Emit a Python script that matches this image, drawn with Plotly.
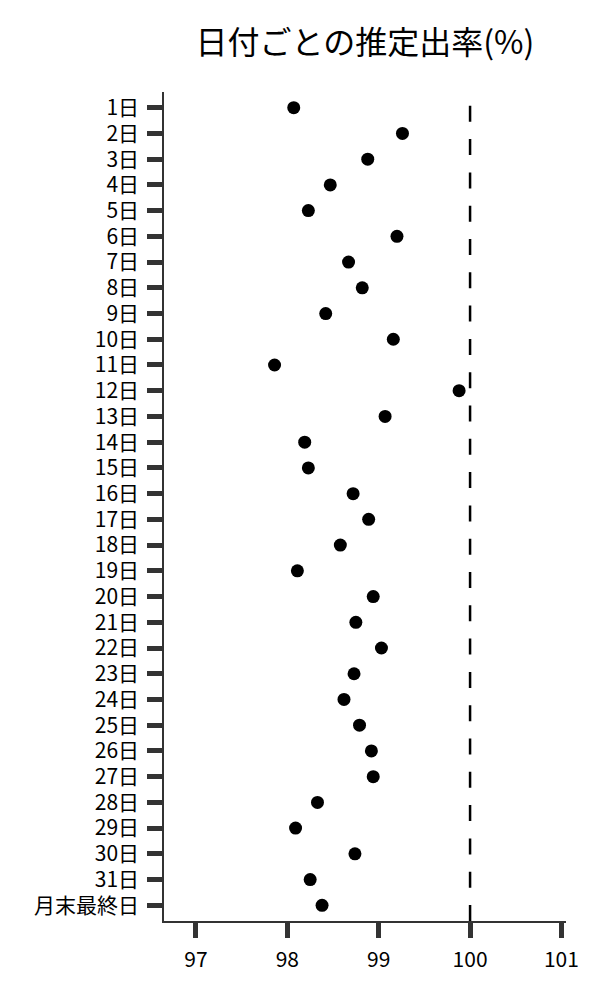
import plotly.graph_objs as go

days = ["1日", "2日", "3日", "4日", "5日", "6日", "7日", "8日", "9日", "10日",
        "11日", "12日", "13日", "14日", "15日", "16日", "17日", "18日", "19日", "20日",
        "21日", "22日", "23日", "24日", "25日", "26日", "27日", "28日", "29日", "30日",
        "31日", "月末最終日"]
rates = [98.07, 99.26, 98.88, 98.47, 98.23, 99.20, 98.67, 98.82, 98.42, 99.16,
         97.86, 99.88, 99.07, 98.19, 98.23, 98.72, 98.89, 98.58, 98.11, 98.94,
         98.75, 99.03, 98.73, 98.62, 98.79, 98.92, 98.94, 98.33, 98.09, 98.74,
         98.25, 98.38]
x_ticks = [97, 98, 99, 100, 101]
target = 100

font_name = "Noto Sans CJK JP"

data = [go.Scatter(
    x=rates,
    y=days,
    mode="markers",
    marker=dict(color="black", size=13, line=dict(width=0)),
    showlegend=False,
    hoverinfo="x+y"
)]

layout = go.Layout(
    width=600,
    height=1000,
    paper_bgcolor="white",
    plot_bgcolor="white",
    font=dict(family=font_name, color="black", size=21),
    margin=dict(l=156, r=42, t=84, b=87),
    title=dict(
        text="日付ごとの推定出率(%)",
        font=dict(family=font_name, size=32, color="black"),
        x=0.5, xref="paper", xanchor="center",
        y=0.965, yref="container", yanchor="middle"
    ),
    xaxis=dict(
        range=[96.65, 101.05],
        tickvals=x_ticks,
        showgrid=False,
        zeroline=False,
        showline=True,
        linecolor="#333",
        linewidth=1.5,
        ticks="outside",
        ticklen=15,
        tickwidth=5,
        tickcolor="#333",
        ticklabelstandoff=4,
        tickfont=dict(size=21, color="black")
    ),
    yaxis=dict(
        type="category",
        categoryorder="array",
        categoryarray=days,
        range=[len(days) - 0.39, -0.61],
        showgrid=False,
        zeroline=False,
        showline=True,
        linecolor="#333",
        linewidth=1.5,
        ticks="outside",
        ticklen=15,
        tickwidth=5,
        tickcolor="#333",
        ticklabelstandoff=4,
        tickfont=dict(size=21, color="black")
    ),
    shapes=[dict(
        type="line",
        xref="x", yref="paper",
        x0=target, x1=target, y0=0, y1=1,
        line=dict(color="black", width=2.5, dash="16px,17.3px")
    )]
)

fig = go.Figure(data=data, layout=layout)
fig.write_html("out.html")
